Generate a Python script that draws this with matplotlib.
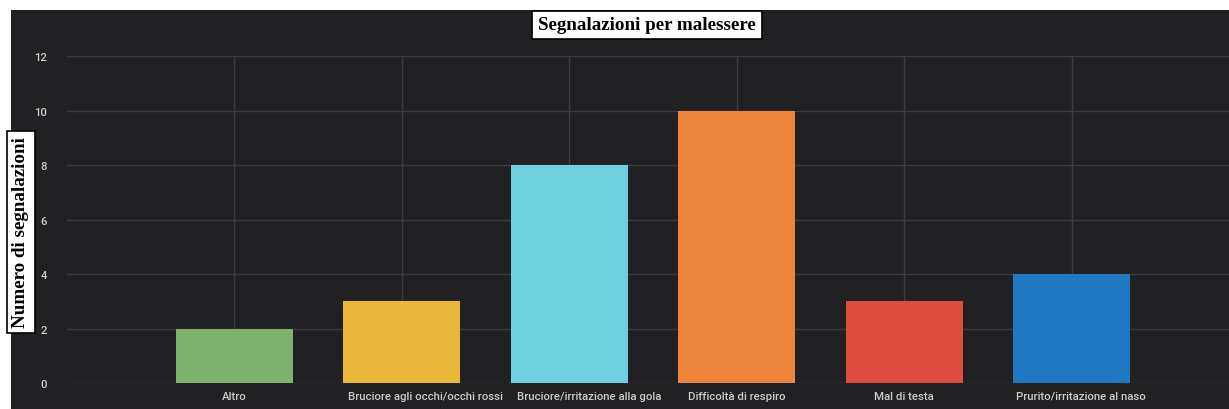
import matplotlib
matplotlib.use("Agg")
import matplotlib.pyplot as plt
import matplotlib.transforms as mtransforms
from matplotlib.patches import Rectangle

categories = [
    "Altro",
    "Bruciore agli occhi/occhi rossi",
    "Bruciore/irritazione alla gola",
    "Difficoltà di respiro",
    "Mal di testa",
    "Prurito/irritazione al naso",
]
counts = [2, 3, 8, 10, 3, 4]
bar_colors = ["#7eb26d", "#eab839", "#6ed0e0", "#ef843c", "#e24d42", "#1f78c1"]
y_ticks = [0, 2, 4, 6, 8, 10, 12]

# horizontal nudge (pixels) applied to each category label
label_shift_px = [0, 24, 20, 0, 0, 9]

BG = "#212124"
GRID = "#3c3c3f"
TICK = "#cccccc"

fig = plt.figure(figsize=(12.29, 4.10), dpi=100, facecolor="white")

# dark panel behind the chart, leaving a thin white strip on top/left
fig.patches.append(
    Rectangle((11 / 1229, 0), 1 - 11 / 1229, (410 - 11) / 410,
              transform=fig.transFigure, facecolor=BG, edgecolor="none", zorder=-5)
)

ax = fig.add_axes([67 / 1229, 1 - 384 / 410, 1 - 67 / 1229, (384 - 57) / 410])
ax.set_facecolor(BG)
ax.set_zorder(1)

x = list(range(len(categories)))
ax.bar(x, counts, width=0.70, color=bar_colors, zorder=3)

ax.set_xlim(-1.0, 5.94)
ax.set_ylim(0, 12)
ax.set_yticks(y_ticks)
ax.set_xticks(x)
ax.set_xticklabels(categories)

ax.grid(True, color=GRID, linewidth=1.0, zorder=0)
ax.set_axisbelow(True)
for s in ax.spines.values():
    s.set_visible(False)
ax.tick_params(axis="both", length=0, colors=TICK, labelsize=8.2,
               labelfontfamily="Roboto")
ax.tick_params(axis="y", pad=14.5)
ax.tick_params(axis="x", pad=11.5)
for lbl, dx in zip(ax.get_xticklabels(), label_shift_px):
    lbl.set_verticalalignment("baseline")
    lbl.set_fontweight("medium")
    shift = mtransforms.ScaledTranslation(dx / fig.dpi, 0, fig.dpi_scale_trans)
    lbl.set_transform(lbl.get_transform() + shift)
for lbl in ax.get_yticklabels():
    lbl.set_fontweight("medium")

box = dict(boxstyle="square,pad=0.3", facecolor="white", edgecolor="black", linewidth=1.2)
fig.text(647 / 1229, 1 - 26 / 410, "Segnalazioni per malessere",
         ha="center", va="center", family="Liberation Serif", weight="bold",
         fontsize=13.7, color="black", bbox=box, zorder=5)
fig.text(21 / 1229, 1 - 233 / 410, "Numero di segnalazioni",
         ha="center", va="center", rotation=90, family="Liberation Serif",
         weight="bold", fontsize=13.7, color="black", bbox=box, zorder=5)

fig.savefig("out.png", dpi=100, facecolor="white")
